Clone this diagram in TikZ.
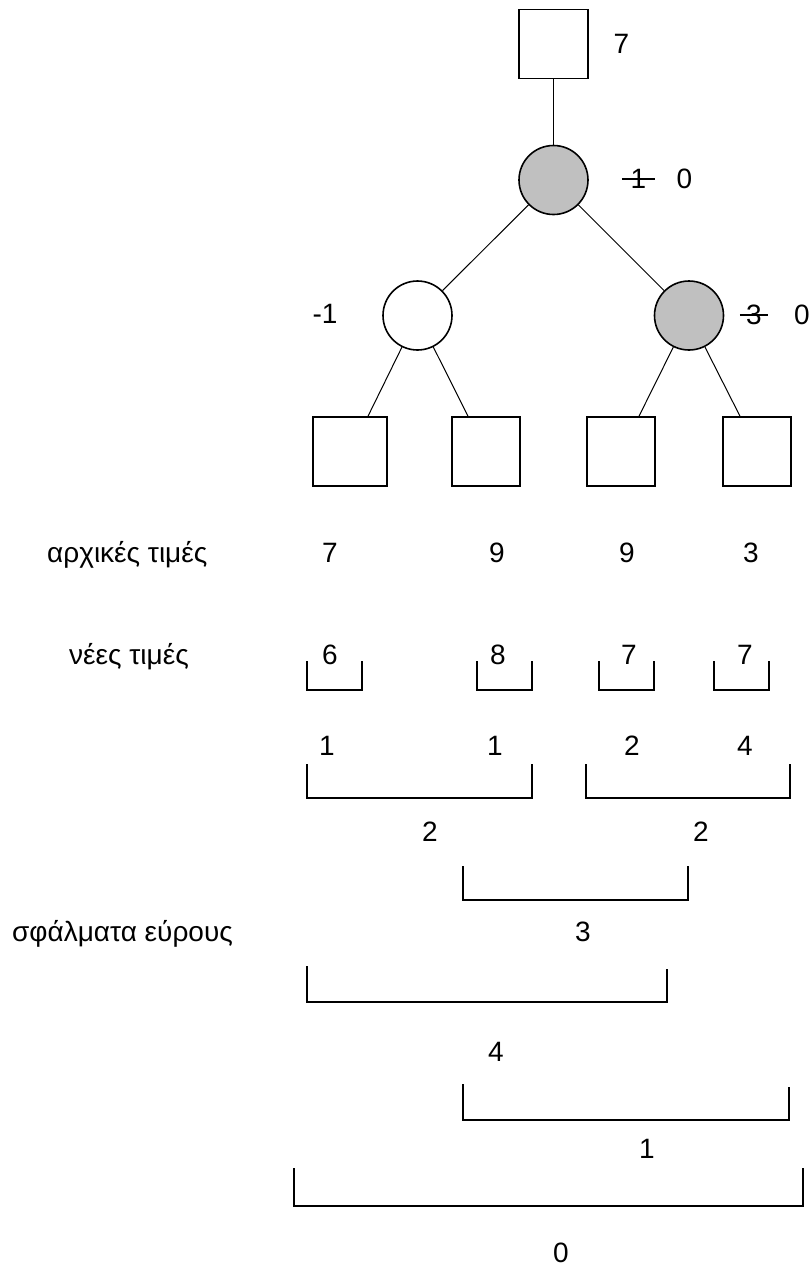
\documentclass[tikz,border=0pt]{standalone}
\usepackage{fontspec}
\setmainfont{Liberation Sans}
\usetikzlibrary{calc}
\definecolor{nodegray}{RGB}{192,192,192}
\begin{document}
\begin{tikzpicture}[x=1pt,y=-1pt,
  sq/.style={draw, line width=1.6pt, minimum width=68pt, minimum height=69pt, inner sep=0pt},
  ci/.style={circle, draw, line width=1.6pt, minimum size=69pt, inner sep=0pt},
  lbl/.style={anchor=base, inner sep=0pt, font=\fontsize{28}{32}\selectfont},
  lblw/.style={lbl, anchor=base west},
  conn/.style={line width=1pt},
  brk/.style={line width=1.6pt},
  strk/.style={line width=1.6pt}]
\useasboundingbox (0,0) rectangle (809,1267);

% tree
\node[sq, minimum width=69pt] (R) at (553.5,44) {};
\node[ci, fill=nodegray] (C0) at (553.5,180) {};
\node[ci, fill=white] (C1) at (417.5,315.5) {};
\node[ci, fill=nodegray] (C2) at (689,315.5) {};
\node[sq, minimum width=74pt] (L1) at (350,451.5) {};
\node[sq] (L2) at (486,451.5) {};
\node[sq] (L3) at (621,451.5) {};
\node[sq] (L4) at (757,451.5) {};

\draw[conn] (R) -- (C0);
\draw[conn] (C0) -- (C1);
\draw[conn] (C0) -- (C2);
\draw[conn] (C1) -- ($(L1.north)+(18,0)$);
\draw[conn] (C1) -- ($(L2.north)+(-18,0)$);
\draw[conn] (C2) -- ($(L3.north)+(18,0)$);
\draw[conn] (C2) -- ($(L4.north)+(-17,0)$);

% tree labels
\node[lbl] (vR) at (621.5,53) {7};
\node[lbl, minimum width=33pt] (s0) at (638.5,188) {1};
\draw[strk] ($(s0.base west)+(0,-9)$) -- ($(s0.base east)+(0,-9)$);
\node[lbl] (n0) at (684.5,188) {0};
\node[lbl] (v1) at (325,323) {-1};
\node[lbl, minimum width=28pt] (s2) at (754,324) {3};
\draw[strk] ($(s2.base west)+(0,-9)$) -- ($(s2.base east)+(0,-9)$);
\node[lbl] (n2) at (802,324) {0};

% initial values
\node[lblw] (tA) at (47,562) {αρχικές τιμές};
\node[lbl] (a1) at (330,562) {7};
\node[lbl] (a2) at (497,562) {9};
\node[lbl] (a3) at (627,562) {9};
\node[lbl] (a4) at (751,562) {3};

% new values
\node[lblw] (tB) at (69,664) {νέες τιμές};
\node[lbl] (b1) at (330,664) {6};
\node[lbl] (b2) at (498,664) {8};
\node[lbl] (b3) at (629,664) {7};
\node[lbl] (b4) at (745,664) {7};
\draw[brk] (307,661) -- (307,690) -- (362,690) -- (362,661);
\draw[brk] (477,661) -- (477,690) -- (532,690) -- (532,661);
\draw[brk] (599,661) -- (599,690) -- (654,690) -- (654,661);
\draw[brk] (714,661) -- (714,690) -- (769,690) -- (769,661);

% range errors
\node[lbl] (e1) at (327,755) {1};
\node[lbl] (e2) at (495,755) {1};
\node[lbl] (e3) at (632,755) {2};
\node[lbl] (e4) at (745,755) {4};
\draw[brk] (307,764) -- (307,798) -- (532,798) -- (532,764);
\draw[brk] (586,764) -- (586,798) -- (790,798) -- (790,764);

\node[lbl] (f1) at (430,841) {2};
\node[lbl] (f2) at (701,841) {2};
\draw[brk] (463,866) -- (463,900) -- (688,900) -- (688,866);

\node[lblw] (tC) at (12,941) {σφάλματα εύρους};
\node[lbl] (g1) at (583,941) {3};
\draw[brk] (307,966) -- (307,1002) -- (667,1002) -- (667,969);

\node[lbl] (h1) at (496,1061) {4};
\draw[brk] (463,1084) -- (463,1120) -- (789,1120) -- (789,1087);

\node[lbl] (i1) at (647,1158) {1};
\draw[brk] (294,1168) -- (294,1206) -- (803,1206) -- (803,1168);

\node[lbl] (j1) at (561,1262) {0};
\end{tikzpicture}
\end{document}
